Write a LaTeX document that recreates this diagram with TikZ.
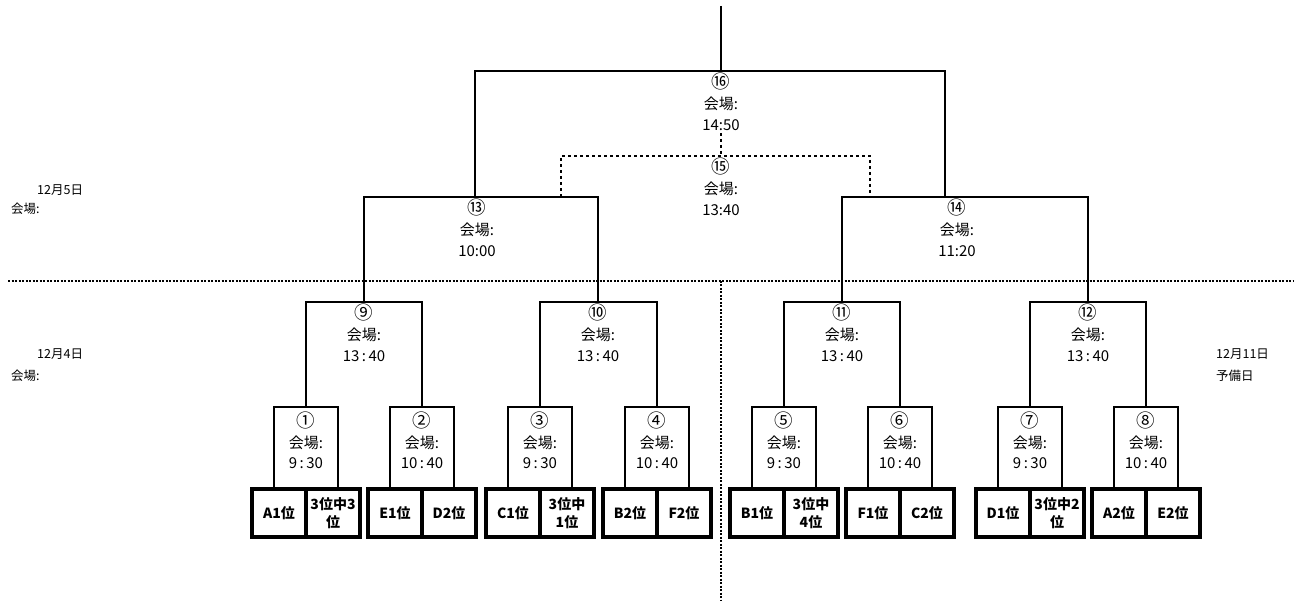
\documentclass[tikz,border=0pt]{standalone}
\usepackage{fontspec}
\setmainfont{Noto Sans CJK JP}
\usetikzlibrary{positioning}
\newcommand{\cnum}[1]{{\fontsize{18.5}{21}\selectfont #1}}

\begin{document}
\begin{tikzpicture}[x=1pt,y=-1pt,
  mbox/.style={draw,line width=1.6pt,rectangle,minimum width=64pt,minimum height=82pt,
    align=center,inner sep=0pt,outer sep=0pt,text depth=15pt,font=\fontsize{15}{20.5}\selectfont},
  mlbl/.style={align=center,inner sep=2pt,font=\fontsize{15}{21}\selectfont},
  tbox/.style={draw,line width=4.5pt,rectangle,minimum width=54pt,minimum height=48pt,
    align=center,inner sep=0pt,outer sep=0pt,font=\fontsize{14}{18}\selectfont\bfseries},
  brk/.style={line width=1.6pt},
  dline/.style={line width=1.6pt,dash pattern=on 3pt off 3pt},
  dsep/.style={line width=1.3pt,dash pattern=on 2pt off 1.5pt},
  dlbl/.style={inner sep=0pt,font=\fontsize{12.5}{14}\selectfont}
]
\useasboundingbox (0,0) rectangle (1294,601);
% first round
\node[mbox](m1) at (306,448){\cnum{①}\\会場:\\9\,:\,30};
\node[mbox](m2) at (422,448){\cnum{②}\\会場:\\10\,:\,40};
\node[mbox](m3) at (540,448){\cnum{③}\\会場:\\9\,:\,30};
\node[mbox](m4) at (657,448){\cnum{④}\\会場:\\10\,:\,40};
\node[mbox](m5) at (784,448){\cnum{⑤}\\会場:\\9\,:\,30};
\node[mbox](m6) at (900,448){\cnum{⑥}\\会場:\\10\,:\,40};
\node[mbox](m7) at (1030,448){\cnum{⑦}\\会場:\\9\,:\,30};
\node[mbox](m8) at (1146,448){\cnum{⑧}\\会場:\\10\,:\,40};
% teams
\node[tbox,anchor=north east](t1a) at (m1.south){A1位};
\node[tbox,right=0pt of t1a](t1b){3位中3\\位};
\node[tbox,anchor=north east](t2a) at (m2.south){E1位};
\node[tbox,right=0pt of t2a](t2b){D2位};
\node[tbox,anchor=north east](t3a) at (m3.south){C1位};
\node[tbox,right=0pt of t3a](t3b){3位中\\1位};
\node[tbox,anchor=north east](t4a) at (m4.south){B2位};
\node[tbox,right=0pt of t4a](t4b){F2位};
\node[tbox,anchor=north east](t5a) at (m5.south){B1位};
\node[tbox,right=0pt of t5a](t5b){3位中\\4位};
\node[tbox,anchor=north east](t6a) at (m6.south){F1位};
\node[tbox,right=0pt of t6a](t6b){C2位};
\node[tbox,anchor=north east](t7a) at (m7.south){D1位};
\node[tbox,right=0pt of t7a](t7b){3位中2\\位};
\node[tbox,anchor=north east](t8a) at (m8.south){A2位};
\node[tbox,right=0pt of t8a](t8b){E2位};
% second round
\node[mlbl,anchor=north](m9) at (364,302){\cnum{⑨}\\会場:\\13\,:\,40};
\node[mlbl,anchor=north](m10) at (598,302){\cnum{⑩}\\会場:\\13\,:\,40};
\node[mlbl,anchor=north](m11) at (842,302){\cnum{⑪}\\会場:\\13\,:\,40};
\node[mlbl,anchor=north](m12) at (1088,302){\cnum{⑫}\\会場:\\13\,:\,40};
\draw[brk](m1.north) |- (m9.north) -| (m2.north);
\draw[brk](m3.north) |- (m10.north) -| (m4.north);
\draw[brk](m5.north) |- (m11.north) -| (m6.north);
\draw[brk](m7.north) |- (m12.north) -| (m8.north);
% semi final, final, 3rd place
\coordinate(j13) at (475,197); \coordinate(j14) at (945,197);
\coordinate(j16) at (721,71); \coordinate(top) at (721,6);
\coordinate(j15) at (721,156); \coordinate(j15t) at (721,133);
\coordinate(k13) at (561,197); \coordinate(k14) at (870,197);
\node[mlbl,anchor=north](m13) at (477,197){\cnum{⑬}\\会場:\\10:00};
\node[mlbl,anchor=north](m14) at (957,197){\cnum{⑭}\\会場:\\11:20};
\node[mlbl,anchor=north](m15) at (j15){\cnum{⑮}\\会場:\\13:40};
\node[mlbl,anchor=north](m16) at (j16){\cnum{⑯}\\会場:\\14:50};
\draw[brk](m9.north) |- (j13) -| (m10.north);
\draw[brk](m11.north) |- (j14) -| (m12.north);
\draw[brk](j13) |- (j16) -| (j14);
\draw[brk](top) -- (j16);
\draw[dline](k13) |- (j15) -| (k14);
\draw[dline](j15t) -- (j15);
% days
\coordinate(h0) at (8,281); \coordinate(h1) at (1294,281);
\coordinate(v0) at (721,281); \coordinate(v1) at (721,601);
\draw[dsep](h0) -- (h1); \draw[dsep](v0) -- (v1);
\node[dlbl,anchor=west](d5) at (37,190){12月5日};
\node[dlbl,anchor=west](v5) at (11,209){会場:};
\node[dlbl,anchor=west](d4) at (37,354){12月4日};
\node[dlbl,anchor=west](v4) at (11,376){会場:};
\node[dlbl,anchor=west](d11) at (1216,354){12月11日};
\node[dlbl,anchor=west](y11) at (1216,376){予備日};
\end{tikzpicture}
\end{document}
